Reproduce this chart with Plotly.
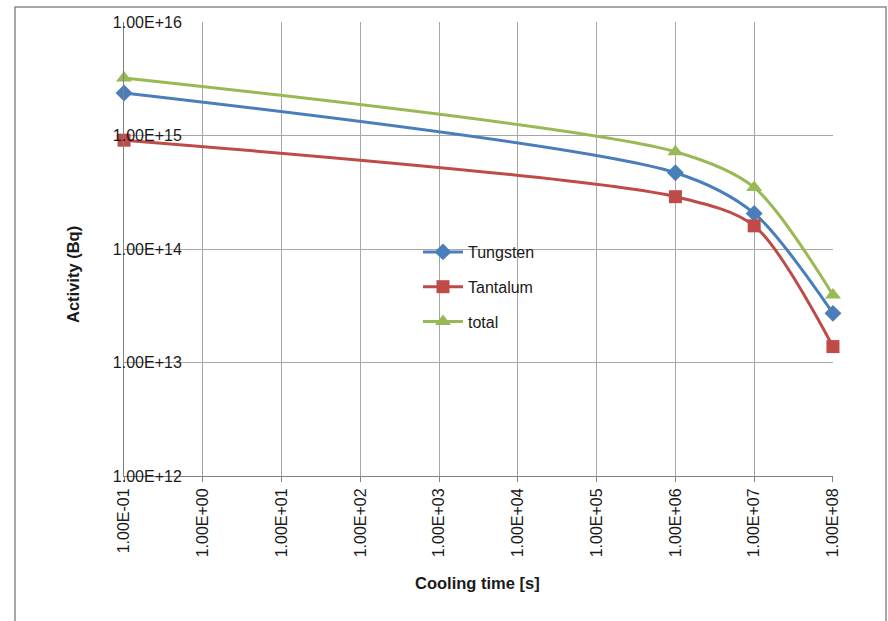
import plotly.graph_objects as go

cooling_time = [1e-1, 1e6, 1e7, 1e8]
tungsten = [2.37e15, 4.7e14, 2.06e14, 2.71e13]
tantalum = [9.1e14, 2.89e14, 1.6e14, 1.38e13]
total = [3.21e15, 7.2e14, 3.49e14, 3.94e13]

x_tickvals = [10.0 ** k for k in range(-1, 9)]
x_ticktext = ["1.00E-01", "1.00E+00", "1.00E+01", "1.00E+02", "1.00E+03",
              "1.00E+04", "1.00E+05", "1.00E+06", "1.00E+07", "1.00E+08"]
y_tickvals = [1e12, 1e13, 1e14, 1e15, 1e16]
y_ticktext = ["1.00E+12", "1.00E+13", "1.00E+14", "1.00E+15", "1.00E+16"]

series = [
    ("Tungsten", tungsten, "#4A7EBB", "diamond", 13),
    ("Tantalum", tantalum, "#BE4B48", "square", 13),
    ("total", total, "#98B954", "triangle-up", 14),
]

fig = go.Figure()
for i, (name, vals, color, sym, sz) in enumerate(series):
    fig.add_trace(go.Scatter(
        x=cooling_time, y=vals, name=name, mode="lines+markers",
        line=dict(color=color, width=3, shape="spline", smoothing=0.8),
        marker=dict(symbol=sym, size=sz, color=color),
        legendgroup=f"g{i}", cliponaxis=False,
    ))

FONT = "Liberation Sans, Arial, sans-serif"
W, H = 888, 621
L, R, T, B = 124, 55, 22, 145
pw, ph = W - L - R, H - T - B

def px(x):
    return (x - L) / pw

def py(y):
    return (H - B - y) / ph

fig.update_layout(
    width=W, height=H,
    margin=dict(l=L, r=R, t=T, b=B, pad=0),
    paper_bgcolor="white", plot_bgcolor="white",
    font=dict(family=FONT, size=16, color="#1a1a1a"),
    showlegend=True,
    legend=dict(x=px(418), y=py(235), xanchor="left", yanchor="top",
                bgcolor="rgba(0,0,0,0)", font=dict(size=16, color="#1a1a1a"),
                tracegroupgap=11, itemwidth=40),
    xaxis=dict(type="log", range=[-1.0005, 8.0005], tickvals=x_tickvals, ticktext=x_ticktext,
               tickangle=-90, showgrid=True, gridcolor="#A6A6A6", gridwidth=1,
               showline=True, linecolor="#808080", linewidth=1,
               ticks="outside", ticklen=5, tickcolor="#808080",
               tickfont=dict(size=16), zeroline=False),
    yaxis=dict(type="log", range=[11.9995, 16.0005], tickvals=y_tickvals, ticktext=y_ticktext,
               showgrid=True, gridcolor="#A6A6A6", gridwidth=1,
               showline=True, linecolor="#808080", linewidth=1,
               ticks="", ticklabelposition="outside", ticklabelstandoff=-62,
               tickfont=dict(size=16), zeroline=False),
    annotations=[
        dict(text="<b>Activity (Bq)</b>", xref="paper", yref="paper",
             x=px(62), y=py(275), textangle=-90, showarrow=False,
             font=dict(size=16.5, color="#1a1a1a")),
        dict(text="<b>Cooling time [s]</b>", xref="paper", yref="paper",
             x=px(477), y=py(594), showarrow=False,
             font=dict(size=16.5, color="#1a1a1a")),
    ],
    shapes=[
        dict(type="rect", xref="paper", yref="paper",
             x0=px(15), x1=px(886), y0=py(640), y1=py(7),
             line=dict(color="#8C8C8C", width=1.5), fillcolor="rgba(0,0,0,0)",
             layer="below"),
    ],
)

fig.write_html("out.html")
